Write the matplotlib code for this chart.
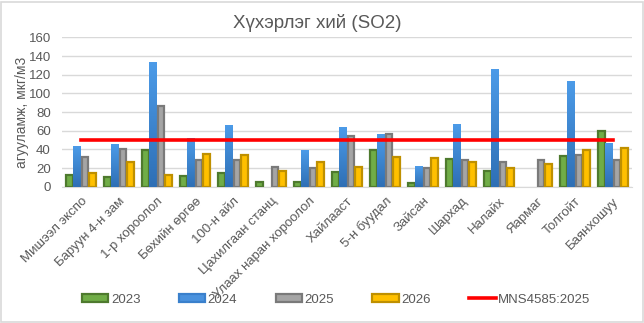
import numpy as np
import matplotlib
matplotlib.use("Agg")
import matplotlib.pyplot as plt
from matplotlib.patches import Patch, FancyBboxPatch
from matplotlib.lines import Line2D
from matplotlib.colors import LinearSegmentedColormap

plt.rcParams['font.family'] = ['Liberation Sans', 'DejaVu Sans']

categories = ["Мишээл экспо", "Баруун 4-н зам", "1-р хороолол", "Бөхийн өргөө",
              "100-н айл", "Цахилгаан станц", "Улаах наран хороолол", "Хайлааст",
              "5-н буудал", "Зайсан", "Шархад", "Налайх", "Яармаг", "Толгойт", "Баянхошуу"]
series_names = ["2023", "2024", "2025", "2026"]
v2023 = [12.5, 10.4, 39.3, 12, 14.3, 4.7, 4.7, 15.7, 39.3, 3.6, 29.6, 16.4, np.nan, 32.5, 59.7]
v2024 = [43.6, 45.7, 133.6, 52, 66, np.nan, 39.3, 64, 56.5, 22, 67, 126, np.nan, 113, 46.8]
v2025 = [31.5, 40.4, 87, 28.6, 29, 21, 19.7, 54, 56, 20, 28.6, 26.4, 28.6, 33.6, 28.6]
v2026 = [14.3, 27, 13, 35, 33.5, 16.4, 26, 21, 31.5, 31, 26, 20, 24.3, 39, 41]
limit_value = 50
limit_name = "MNS4585:2025"
title = "Хүхэрлэг хий (SO2)"
ylabel = "агууламж, мкг/м3"

values = [v2023, v2024, v2025, v2026]
faces = ["#70AD47", "#4A92DE", "#A5A5A5", "#FFC000"]
edges = ["#4E7A2E", "#3A80CC", "#7A7A7A", "#BF9000"]
txt = "#595959"

fig = plt.figure(figsize=(6.44, 3.23), dpi=100)
fig.patches.append(FancyBboxPatch((0.002, 0.004), 0.996, 0.99, boxstyle="square,pad=0",
                                  transform=fig.transFigure, fill=False,
                                  edgecolor="#D9D9D9", linewidth=1.2))
ax = fig.add_axes([0.0963, 0.422, 0.885, 0.462])

x = np.arange(len(categories))
bw = 0.2
offsets = np.array([-1.5, -0.5, 0.5, 1.5]) * bw
grad = np.linspace(0, 1, 100).reshape(-1, 1)
bcmap = LinearSegmentedColormap.from_list("b", ["#2E6FB5", "#4C9BE8"])
for i, vals in enumerate(values):
    if i == 1:
        bars = ax.bar(x + offsets[i], vals, bw, color="none", edgecolor="none", zorder=3)
        for b in bars:
            h = b.get_height()
            if not np.isfinite(h) or h <= 0:
                continue
            x0 = b.get_x(); w = b.get_width()
            im = ax.imshow(grad, extent=[x0, x0 + w, 0, h], origin="lower", cmap=bcmap,
                           aspect="auto", zorder=3)
            im.set_clip_path(b)
    else:
        ax.bar(x + offsets[i], vals, bw * 0.85, color=faces[i], edgecolor=edges[i],
               linewidth=1.6, zorder=3)

ax.plot([x[0], x[-1]], [limit_value, limit_value], color="#FF0000", linewidth=2.6, zorder=4)

ax.set_xlim(-0.5, len(categories) - 0.5)
ax.set_ylim(0, 160)
ax.set_yticks(np.arange(0, 161, 20))
ax.grid(axis="y", color="#D9D9D9", linewidth=1, zorder=0)
ax.set_axisbelow(True)
for s in ["left", "right", "top"]:
    ax.spines[s].set_visible(False)
ax.spines["bottom"].set_color("#D9D9D9")
ax.tick_params(axis="both", length=0, colors=txt, labelsize=9.5)
ax.tick_params(axis="y", pad=8)
ax.set_xticks(x)
ax.set_xticklabels(categories, rotation=45, ha="right", rotation_mode="anchor")
ax.tick_params(axis="x", pad=6)
ax.set_ylabel(ylabel, color=txt, fontsize=10)
ax.yaxis.set_label_coords(-0.058, 0.5)
fig.text(0.493, 0.93, title, ha="center", va="center", fontsize=13.5, color=txt)

handles = [Patch(facecolor=faces[i], edgecolor=edges[i], linewidth=1.6) for i in range(4)]
handles.append(Line2D([0], [0], color="#FF0000", linewidth=2.6))
labels = series_names + [limit_name]
fig.legend(handles, labels, loc="center", bbox_to_anchor=(0.522, 0.072), ncol=5,
           frameon=False, fontsize=9.5, labelcolor=txt, columnspacing=2.9,
           handlelength=2.0, handleheight=0.6, handletextpad=0.2)

fig.savefig("out.png", dpi=100)
